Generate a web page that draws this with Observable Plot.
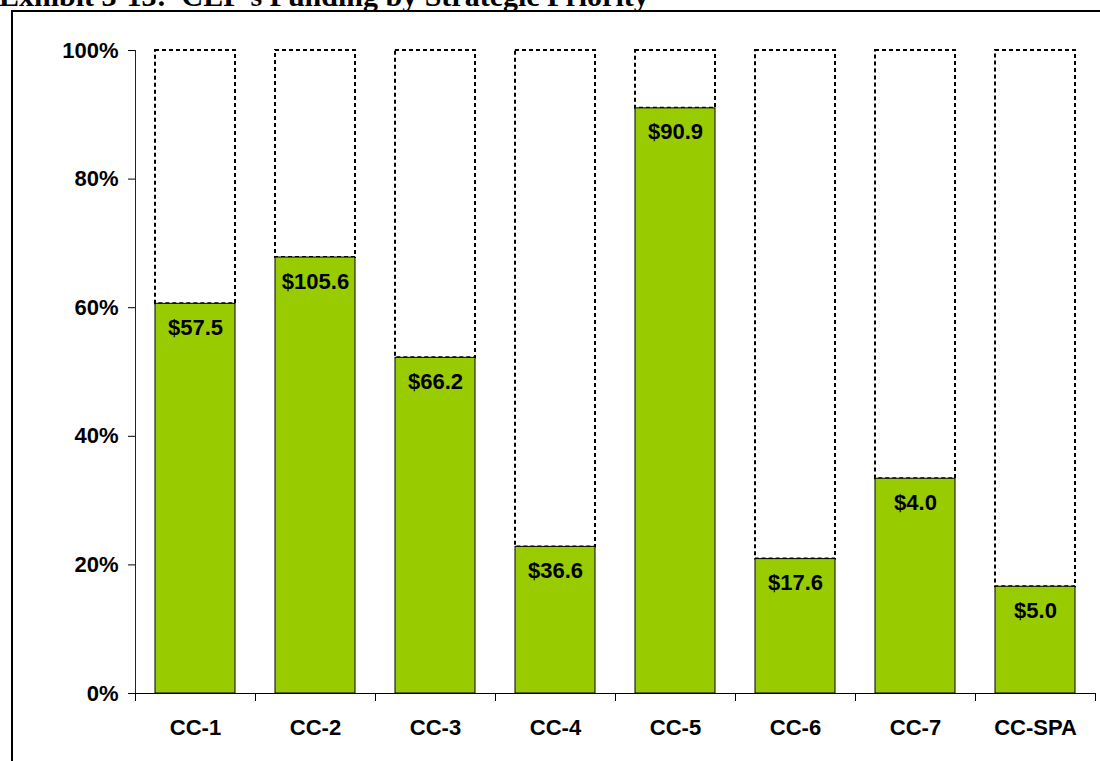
<!DOCTYPE html>
<html>
<head>
<meta charset="utf-8">
<script src="https://cdn.jsdelivr.net/npm/d3@7"></script>
<script src="https://cdn.jsdelivr.net/npm/@observablehq/plot@0.6"></script>
<style>
  html, body { margin: 0; padding: 0; background: #fff; overflow: hidden; }
  #page { position: relative; width: 1100px; height: 761px; overflow: hidden; }
  #title { position: absolute; left: -1px; top: -19px; font-family: "Liberation Serif", "Times New Roman", serif; font-weight: bold; font-size: 30px; line-height: 30px; white-space: nowrap; color: #000; }
  #box { position: absolute; left: 11px; top: 10px; width: 1200px; height: 800px; border-top: 2px solid #000; border-left: 2px solid #000; }
  #chart { position: absolute; left: 0; top: 0; }
</style>
</head>
<body>
<div id="page">
  <div id="chart"></div>
  <div id="box"></div>
  <div id="title">Exhibit 3-13:&nbsp; CEP’s Funding by Strategic Priority</div>
</div>
<script>
const categories = ["CC-1", "CC-2", "CC-3", "CC-4", "CC-5", "CC-6", "CC-7", "CC-SPA"];
const shares = [0.606, 0.678, 0.522, 0.228, 0.910, 0.209, 0.334, 0.166];
const amounts = [57.5, 105.6, 66.2, 36.6, 90.9, 17.6, 4.0, 5.0];
const yTicks = [0, 0.2, 0.4, 0.6, 0.8, 1.0];

const data = categories.map((c, i) => ({cat: c, share: shares[i], amount: amounts[i]}));
const font = "'Liberation Sans', Arial, sans-serif";
const W = 1100, mL = 135, mR = 5;
const step = (W - mL - mR) / categories.length;

const chart = Plot.plot({
  width: W,
  height: 761,
  marginTop: 50,
  marginBottom: 68,
  marginLeft: mL,
  marginRight: mR,
  style: {fontFamily: font, background: "transparent", color: "#000"},
  x: {domain: categories, paddingInner: 1/3, paddingOuter: 1/6, axis: null, label: null},
  y: {domain: [0, 1], axis: null, label: null},
  marks: [
    Plot.barY(data, {x: "cat", y1: "share", y2: 1, fill: "none", stroke: "#000", strokeWidth: 2, strokeDasharray: "4,3"}),
    Plot.barY(data, {x: "cat", y1: 0, y2: "share", fill: "#99CC00", stroke: "#000", strokeWidth: 1}),
    Plot.text(data, {x: "cat", y: "share", text: d => "$" + d.amount.toFixed(1), dy: 24, lineAnchor: "middle", fontSize: 22, fontWeight: "bold", fill: "#000"}),
    Plot.frame({anchor: "left", stroke: "#222"}),
    Plot.ruleY([0], {stroke: "#000"}),
    Plot.ruleX(categories, {x: d => d, y1: 0, y2: 0, insetBottom: -8, dx: -step / 2, stroke: "#000"}),
    Plot.ruleX(categories.slice(-1), {x: d => d, y1: 0, y2: 0, insetBottom: -8, dx: step / 2, stroke: "#000"}),
    Plot.axisY({ticks: yTicks, tickFormat: d => Math.round(d * 100) + "%", tickSize: 7, tickPadding: 10, fontSize: 22, fontWeight: "bold", stroke: "#000", fill: "#000", label: null}),
    Plot.axisX({tickSize: 0, tickPadding: 26, fontSize: 22, fontWeight: "bold", fill: "#000", label: null})
  ]
});
document.getElementById("chart").appendChild(chart);
</script>
</body>
</html>
